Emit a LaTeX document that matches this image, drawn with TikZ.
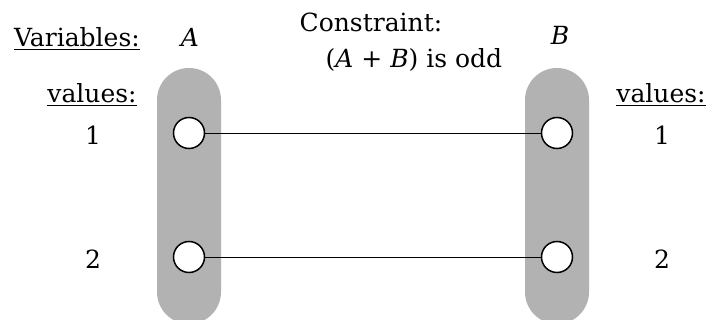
\documentclass[tikz,border=0pt]{standalone}
\usepackage{fontspec}
\setmainfont{DejaVu Serif}

\tikzset{
  pill/.style={fill=black!30,rounded corners=32pt},
  val/.style={circle,draw,fill=white,line width=1.5pt,minimum size=31pt,inner sep=0pt},
  lbl/.style={anchor=base,font=\fontsize{25}{30}\selectfont}
}

\begin{document}
\begin{tikzpicture}[x=1pt,y=-1pt]
\useasboundingbox (0,0) rectangle (710,320);

% the two domains
\fill[pill] (157,68) rectangle (221,324);
\fill[pill] (525,68) rectangle (589,324);

% headings
\node[lbl] (vars) at (77,47) {\underline{Variables:}};
\node[lbl] (varA) at (190,47) {\textit{A}};
\node[lbl] (varB) at (560,45) {\textit{B}};
\node[lbl] (cons) at (371,32) {Constraint:};
\node[lbl] (rule) at (414,68) {(\textit{A} + \textit{B}) is odd};
\node[lbl] (valsA) at (92,103) {\underline{values:}};
\node[lbl] (valsB) at (661,103) {\underline{values:}};

% values and the allowed pairs
\foreach \v/\y in {1/133,2/257}
{
  \node[val] (a\v) at (189,\y) {};
  \node[val] (b\v) at (557,\y) {};
  \node (na\v) at (93,\y+2) {\fontsize{25}{30}\selectfont\v};
  \node (nb\v) at (662,\y+2) {\fontsize{25}{30}\selectfont\v};
  \draw[line width=.9pt] (a\v) -- (b\v);
};
\end{tikzpicture}
\end{document}
